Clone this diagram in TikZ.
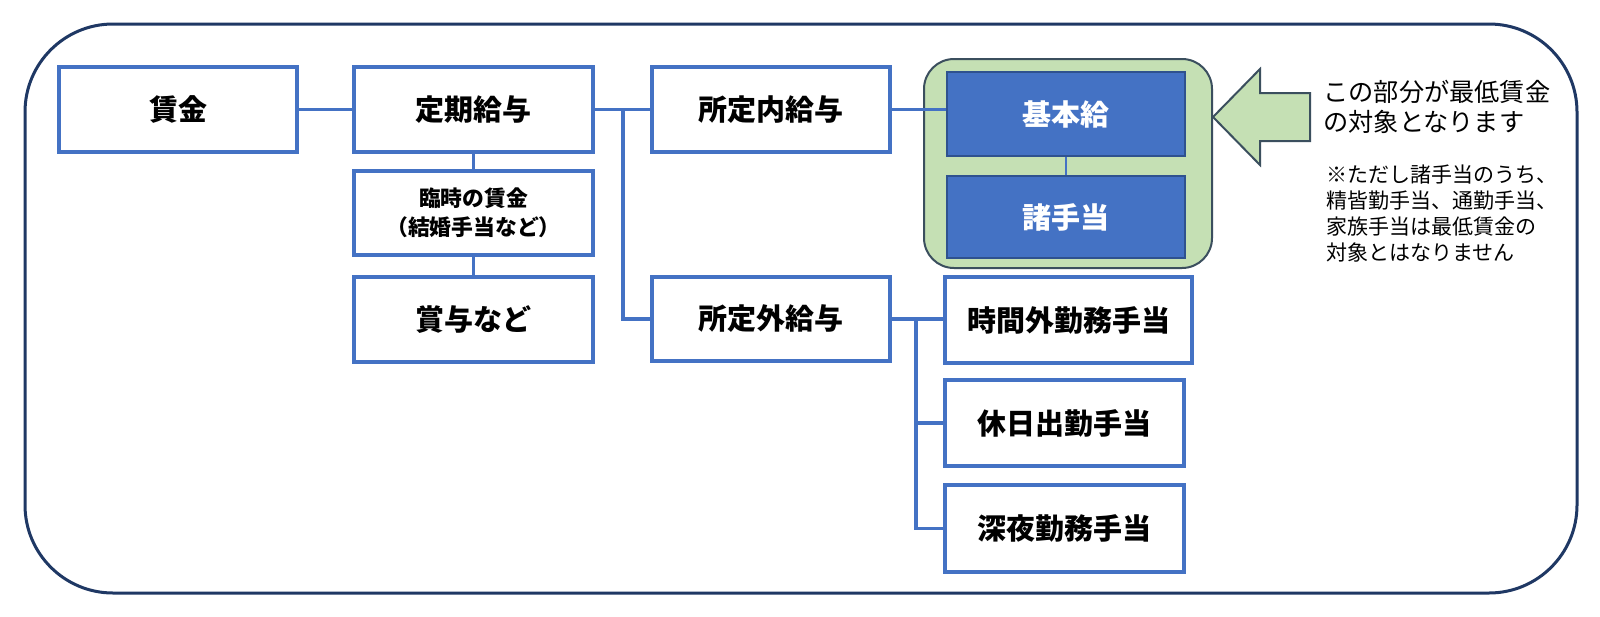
\documentclass[tikz,border=0pt]{standalone}
\usepackage{fontspec}
\setmainfont{Noto Sans CJK JP}
\definecolor{boxblue}{HTML}{4472C4}
\definecolor{navy}{HTML}{1F3864}
\definecolor{lgreen}{HTML}{C5E0B4}
\definecolor{slate}{HTML}{3B4F5E}
\definecolor{dblue}{HTML}{2F528F}
\def\u{0.5pt}
\tikzset{
  wbox/.style={draw=boxblue, line width=2pt, fill=white, minimum width=239*\u, minimum height=85*\u, inner sep=0pt, font=\bfseries\fontsize{14.5}{17}\selectfont},
  bbox/.style={draw=dblue, line width=1pt, fill=boxblue, text=white, minimum width=238*\u, minimum height=84*\u, inner sep=0pt, font=\bfseries\fontsize{14.5}{17}\selectfont},
  conn/.style={draw=boxblue, line width=1.6pt},
}
\begin{document}
\begin{tikzpicture}[x=0.5pt, y=-0.5pt]
\useasboundingbox (0,0) rectangle (1600,616);
\fill[white] (0,0) rectangle (1600,616);
% outer frame
\draw[navy, line width=1.5pt, rounded corners=44pt] (25,24) rectangle (1577,593);
% green group
\node[draw=slate, line width=1pt, fill=lgreen, rounded corners=15pt, minimum width=288*\u, minimum height=209*\u, inner sep=0pt] (grn) at (1068,163.5) {};
% arrow
\draw[slate, line width=1pt, fill=lgreen, line join=miter] (1213,117) -- (1260,69) -- (1260,93) -- (1310,93) -- (1310,141) -- (1260,141) -- (1260,165) -- cycle;
% boxes
\node[wbox, minimum width=238*\u] (chin) at (178,109.5) {賃金};
\node[wbox] (teiki) at (473.5,109.5) {定期給与};
\node[wbox, font=\bfseries\fontsize{10.9}{14.5}\selectfont, align=center, minimum height=84*\u] (rinji) at (473.5,213) {臨時の賃金\\（結婚手当など）};
\node[wbox] (shoyo) at (473.5,319.5) {賞与など};
\node[wbox, minimum width=238*\u] (sn) at (771,109.5) {所定内給与};
\node[wbox, minimum width=238*\u, minimum height=84*\u] (sg) at (771,319) {所定外給与};
\node[bbox] (kihon) at (1066,114) {基本給};
\node[bbox, minimum height=82*\u] (sho) at (1066,217) {諸手当};
\node[wbox, minimum width=247*\u, minimum height=86*\u] (jikan) at (1068.5,320) {時間外勤務手当};
\node[wbox, minimum height=86*\u] (kyu) at (1064.5,423) {休日出勤手当};
\node[wbox, minimum height=87*\u] (shin) at (1064.5,528.5) {深夜勤務手当};
% connectors
\coordinate (j1) at (623,109.5);
\coordinate (j2) at (916,319);
\draw[conn] (chin.east) -- (teiki.west);
\draw[conn] (teiki.south) -- (rinji.north);
\draw[conn] (rinji.south) -- (shoyo.north);
\draw[conn] (teiki.east) -- (sn.west);
\draw[conn] (j1) |- (sg.west);
\draw[conn] (sn.east) -- (sn.east -| kihon.west);
\draw[conn, line width=1.2pt] (kihon.south) -- (sho.north);
\draw[conn] (sg.east) -- (sg.east -| jikan.west);
\draw[conn] (j2) |- (kyu.west);
\draw[conn] (j2) |- (shin.west);
% texts
\node[anchor=north west, align=left, inner sep=0pt, font=\fontsize{12.6}{15}\selectfont] (msg) at (1323,80) {この部分が最低賃金\\の対象となります};
\node[anchor=north west, align=left, inner sep=0pt, font=\fontsize{10.5}{13}\selectfont] (note) at (1326,164) {※ただし諸手当のうち、\\精皆勤手当、通勤手当、\\家族手当は最低賃金の\\対象とはなりません};
\end{tikzpicture}
\end{document}
